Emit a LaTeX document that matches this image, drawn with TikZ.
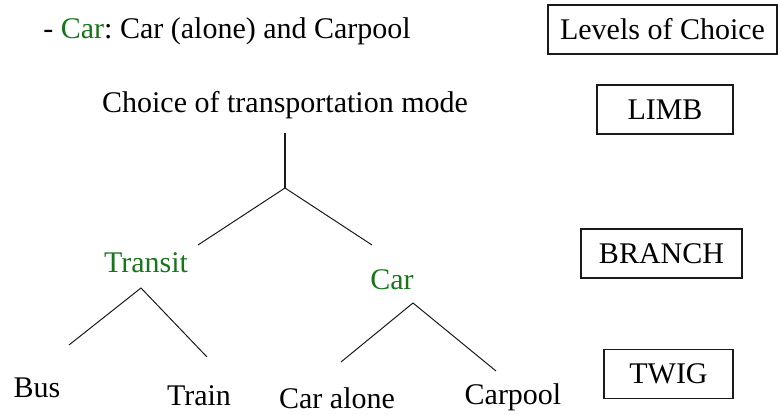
\documentclass[tikz,border=0pt]{standalone}
\usepackage{fontspec}
\setmainfont{Liberation Serif}
\usepackage{xcolor}
\usepackage{tikz}
\usetikzlibrary{positioning, calc}
\definecolor{nestgreen}{HTML}{17761A}
\definecolor{nestline}{HTML}{1A1A1A}
\frenchspacing

\tikzset{
  levelbox/.style={draw=nestline, line width=0.65pt, inner sep=0pt, minimum height=24.5pt, font=\fontsize{15}{18}\selectfont},
  treetext/.style={anchor=base, inner sep=0pt, font=\fontsize{15}{18}\selectfont},
  nesttext/.style={treetext, nestgreen},
  treeline/.style={nestline, line width=0.5pt}
}

\begin{document}
\begin{tikzpicture}[x=0.5pt, y=-0.5pt]
      \useasboundingbox (0,0) rectangle (778,415);
      % header line and level boxes
      \node[anchor=base west, inner sep=0pt, font=\fontsize{15}{18}\selectfont] (note) at (43,39) {- \textcolor{nestgreen}{Car}: Car (alone) and Carpool};
      \node[levelbox, minimum width=114.5pt] (levels) at (662.5,29.5) {Levels of Choice};
      \node[levelbox, minimum width=68pt] (limb) at (665,109.5) {LIMB};
      \node[levelbox, minimum width=80.5pt] (branch) at (661.5,253.5) {BRANCH};
      \node[levelbox, minimum width=64.5pt] (twig) at (668.5,374) {TWIG};
      % tree labels
      \node[treetext] (mode) at (285,113) {Choice of transportation mode};
      \node[nesttext] (transit) at (146,273) {Transit};
      \node[nesttext] (car) at (392,290) {Car};
      \node[treetext] (bus) at (37,398) {Bus};
      \node[treetext] (train) at (199,406) {Train};
      \node[treetext] (alone) at (337,409) {Car alone};
      \node[treetext] (pool) at (513,405) {Carpool};
      % tree joints
      \coordinate (stem) at (285,133);
      \coordinate (root) at (285,188);
      \coordinate (transitTop) at (198,245);
      \coordinate (carTop) at (372,245);
      \coordinate (transitJoint) at (141,288);
      \coordinate (busTop) at (69,345);
      \coordinate (trainTop) at (207,357);
      \coordinate (carJoint) at (413,303);
      \coordinate (aloneTop) at (341,362);
      \coordinate (poolTop) at (496,371);
      \draw[treeline, line width=0.8pt] (stem) -- (root);
      \draw[treeline] (transitTop) -- (root) -- (carTop);
      \draw[treeline] (busTop) -- (transitJoint) -- (trainTop);
      \draw[treeline] (aloneTop) -- (carJoint) -- (poolTop);
    \end{tikzpicture}
\end{document}
